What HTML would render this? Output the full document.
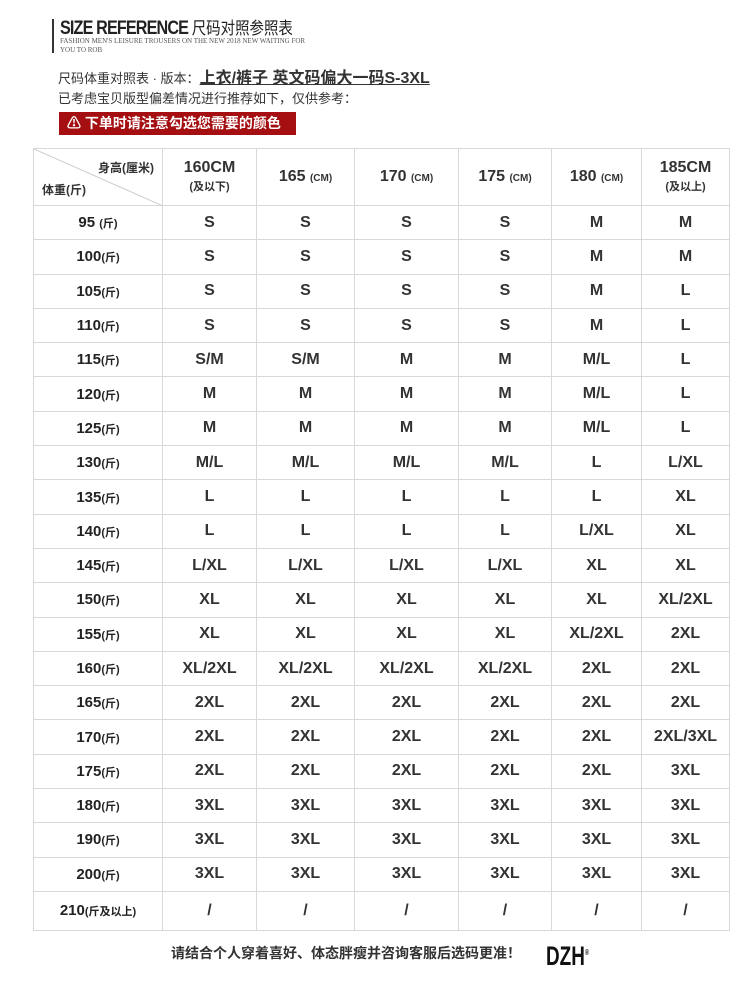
<!DOCTYPE html>
<html><head><meta charset="utf-8"><style>
body{margin:0;width:750px;height:983px;background:#fff;position:relative;overflow:hidden;font-family:"Liberation Sans","Noto Sans CJK SC",sans-serif;color:#222}
.a{position:absolute;white-space:nowrap}
table{position:absolute;left:33px;top:148px;border-collapse:collapse;table-layout:fixed}
td{border:1px solid #d8d8d8;text-align:center;padding:0;font-weight:bold;font-size:16px;color:#333;height:33.3px}
td.l{font-size:15px;color:#222}
td.l small{font-size:11px;font-weight:bold}
</style></head><body>
<div class="a" style="left:52px;top:19px;width:2px;height:34px;background:#333"></div>
<div class="a" style="left:60px;top:14px;font-size:19px;font-weight:bold;letter-spacing:-1px;transform:scaleX(0.85);transform-origin:left;color:#222">SIZE REFERENCE <span style="font-weight:normal;font-size:17px;letter-spacing:0">尺码对照参照表</span></div>
<div class="a" style="left:60px;top:37px;font-family:'Liberation Serif',serif;font-size:7px;color:#555;line-height:9px">FASHION MEN'S LEISURE TROUSERS ON THE NEW 2018 NEW WAITING FOR<br>YOU TO ROB</div>
<div class="a" style="left:58px;top:64px;font-size:13px;color:#333">尺码体重对照表 · 版本：<span style="font-size:16px;font-weight:bold;text-decoration:underline;color:#333">上衣/裤子 英文码偏大一码S-3XL</span></div>
<div class="a" style="left:58px;top:88px;font-size:13px;color:#333">已考虑宝贝版型偏差情况进行推荐如下，仅供参考：</div>
<div class="a" style="left:59px;top:112px;width:237px;height:23px;background:#a50f12;color:#fff;font-size:14px;font-weight:bold;line-height:23px;padding-left:8px;box-sizing:border-box">⚠ 下单时请注意勾选您需要的颜色</div>
<table>
<colgroup><col style="width:129px"><col style="width:94px"><col style="width:98px"><col style="width:104px"><col style="width:93px"><col style="width:90px"><col style="width:88px"></colgroup>
<tr style="height:57px"><td style="position:relative;height:56px;font-size:12px;text-align:left"><svg style="position:absolute;left:0;top:0" width="129" height="57"><line x1="0" y1="0" x2="129" y2="57" stroke="#ccc"/></svg><span class="a" style="right:8px;top:10px">身高(厘米)</span><span class="a" style="left:8px;top:32px">体重(斤)</span></td>
<td>160CM<br><span style="font-size:11px">(及以下)</span></td><td>165 <small style="font-size:10px">(CM)</small></td><td>170 <small style="font-size:10px">(CM)</small></td><td>175 <small style="font-size:10px">(CM)</small></td><td>180 <small style="font-size:10px">(CM)</small></td><td>185CM<br><span style="font-size:11px">(及以上)</span></td></tr>
<tr><td class="l">95 <small>(斤)</small></td><td>S</td><td>S</td><td>S</td><td>S</td><td>M</td><td>M</td></tr>
<tr><td class="l">100<small>(斤)</small></td><td>S</td><td>S</td><td>S</td><td>S</td><td>M</td><td>M</td></tr>
<tr><td class="l">105<small>(斤)</small></td><td>S</td><td>S</td><td>S</td><td>S</td><td>M</td><td>L</td></tr>
<tr><td class="l">110<small>(斤)</small></td><td>S</td><td>S</td><td>S</td><td>S</td><td>M</td><td>L</td></tr>
<tr><td class="l">115<small>(斤)</small></td><td>S/M</td><td>S/M</td><td>M</td><td>M</td><td>M/L</td><td>L</td></tr>
<tr><td class="l">120<small>(斤)</small></td><td>M</td><td>M</td><td>M</td><td>M</td><td>M/L</td><td>L</td></tr>
<tr><td class="l">125<small>(斤)</small></td><td>M</td><td>M</td><td>M</td><td>M</td><td>M/L</td><td>L</td></tr>
<tr><td class="l">130<small>(斤)</small></td><td>M/L</td><td>M/L</td><td>M/L</td><td>M/L</td><td>L</td><td>L/XL</td></tr>
<tr><td class="l">135<small>(斤)</small></td><td>L</td><td>L</td><td>L</td><td>L</td><td>L</td><td>XL</td></tr>
<tr><td class="l">140<small>(斤)</small></td><td>L</td><td>L</td><td>L</td><td>L</td><td>L/XL</td><td>XL</td></tr>
<tr><td class="l">145<small>(斤)</small></td><td>L/XL</td><td>L/XL</td><td>L/XL</td><td>L/XL</td><td>XL</td><td>XL</td></tr>
<tr><td class="l">150<small>(斤)</small></td><td>XL</td><td>XL</td><td>XL</td><td>XL</td><td>XL</td><td>XL/2XL</td></tr>
<tr><td class="l">155<small>(斤)</small></td><td>XL</td><td>XL</td><td>XL</td><td>XL</td><td>XL/2XL</td><td>2XL</td></tr>
<tr><td class="l">160<small>(斤)</small></td><td>XL/2XL</td><td>XL/2XL</td><td>XL/2XL</td><td>XL/2XL</td><td>2XL</td><td>2XL</td></tr>
<tr><td class="l">165<small>(斤)</small></td><td>2XL</td><td>2XL</td><td>2XL</td><td>2XL</td><td>2XL</td><td>2XL</td></tr>
<tr><td class="l">170<small>(斤)</small></td><td>2XL</td><td>2XL</td><td>2XL</td><td>2XL</td><td>2XL</td><td>2XL/3XL</td></tr>
<tr><td class="l">175<small>(斤)</small></td><td>2XL</td><td>2XL</td><td>2XL</td><td>2XL</td><td>2XL</td><td>3XL</td></tr>
<tr><td class="l">180<small>(斤)</small></td><td>3XL</td><td>3XL</td><td>3XL</td><td>3XL</td><td>3XL</td><td>3XL</td></tr>
<tr><td class="l">190<small>(斤)</small></td><td>3XL</td><td>3XL</td><td>3XL</td><td>3XL</td><td>3XL</td><td>3XL</td></tr>
<tr><td class="l">200<small>(斤)</small></td><td>3XL</td><td>3XL</td><td>3XL</td><td>3XL</td><td>3XL</td><td>3XL</td></tr>
<tr><td class="l" style="height:38px">210<small>(斤及以上)</small></td><td>/</td><td>/</td><td>/</td><td>/</td><td>/</td><td>/</td></tr>
</table>
<div class="a" style="left:171px;top:943px;font-size:14px;font-weight:bold;color:#333">请结合个人穿着喜好、体态胖瘦并咨询客服后选码更准！</div>
<div class="a" style="left:546px;top:939px;font-size:27px;font-weight:bold;line-height:28px;transform:scaleX(0.7);transform-origin:left;color:#111">DZH<sup style="font-size:8px">®</sup></div>
</body></html>
